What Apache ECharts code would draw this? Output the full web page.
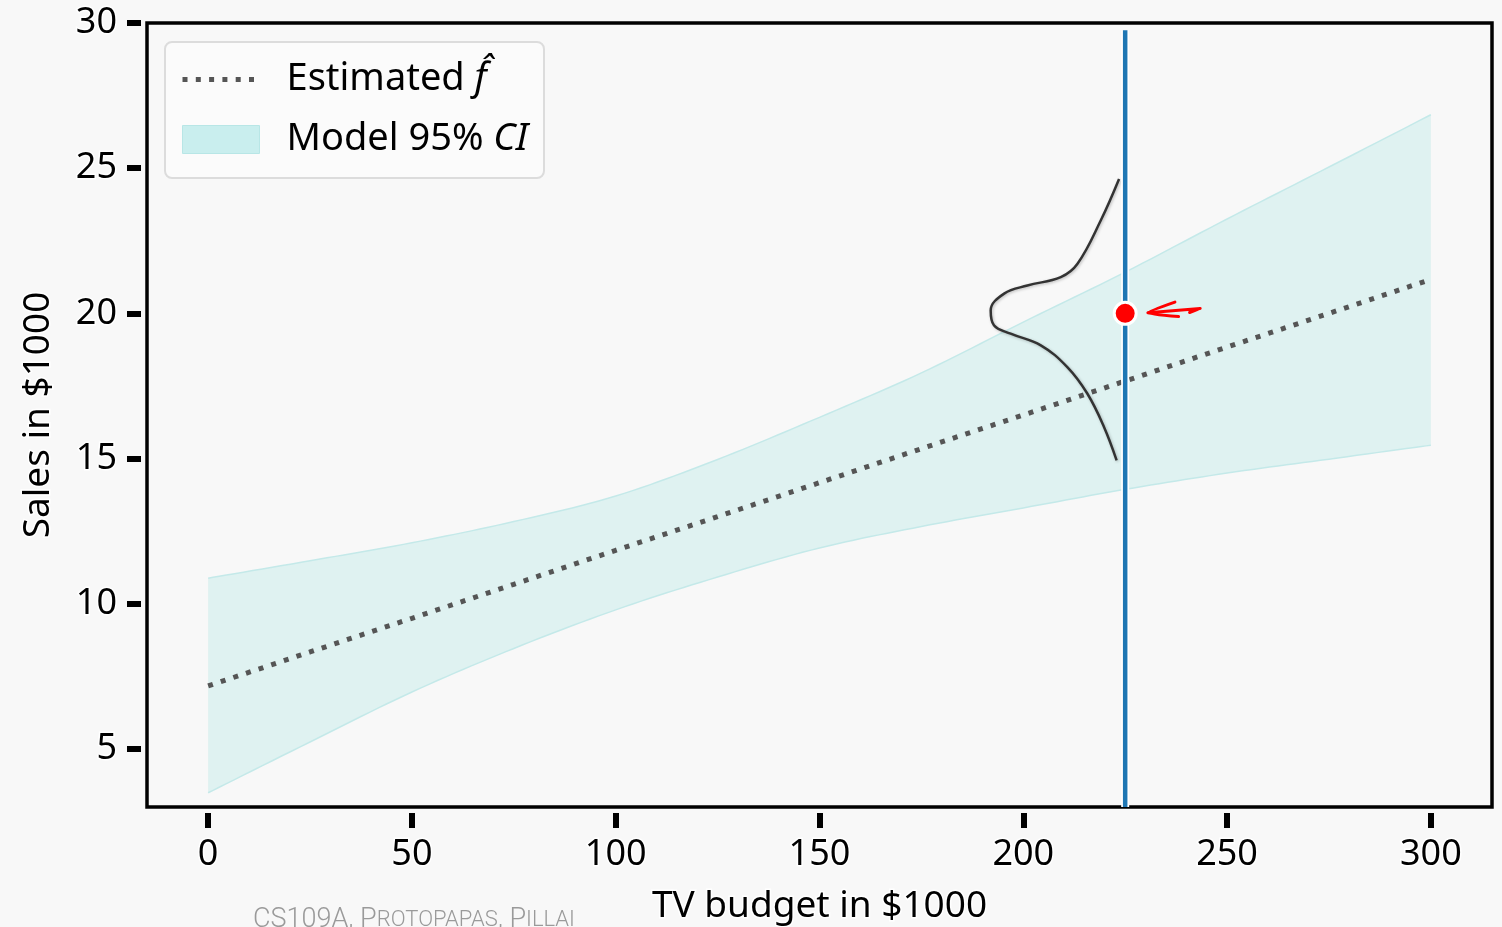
<!DOCTYPE html>
<html>
<head>
<meta charset="utf-8">
<title>TV budget vs Sales</title>
<script src="https://cdn.jsdelivr.net/npm/echarts@6/dist/echarts.min.js"></script>
<style>
  html, body { margin: 0; padding: 0; background: #f8f8f8; }
  #chart { width: 1502px; height: 927px; }
</style>
</head>
<body>
<div id="chart"></div>
<script>
// TV budget grid (in $1000) used for the fitted line and its confidence band
const tvBudget = [0, 25, 50, 75, 100, 125, 150, 175, 200, 225, 250, 275, 300];
// Estimated regression line f-hat (sales in $1000)
const estimatedSales = [7.17, 8.34, 9.50, 10.67, 11.84, 13.00, 14.17, 15.34, 16.50, 17.67, 18.84, 20.00, 21.17];
// 95% confidence band of the model
const ciLower = [3.49, 5.24, 6.96, 8.46, 9.79, 10.92, 11.92, 12.66, 13.30, 13.94, 14.50, 14.98, 15.46];
const ciUpper = [10.88, 11.48, 12.10, 12.83, 13.71, 14.97, 16.42, 17.95, 19.70, 21.42, 23.25, 25.04, 26.84];

// Highlighted budget and the observed sales there
const markedBudget = 225;
const observedSales = 20;

// Sketched sideways bell curve showing the spread of sales around the marked budget
const bellX = [223.5, 219.0, 213.3, 209.2, 201.0, 195.3, 192.0, 192.8, 196.9, 204.3, 210.8, 215.7, 219.8, 222.9];
const bellY = [24.63, 23.20, 21.71, 21.25, 20.96, 20.68, 20.10, 19.59, 19.30, 18.90, 18.15, 17.24, 16.09, 14.94];

// Hand-drawn arrow pointing at the observation
const arrowHeadX = [237.2, 230.6, 238.1];
const arrowHeadY = [20.39, 20.02, 19.89];
const arrowShaftX = [230.6, 243.4, 240.8];
const arrowShaftY = [20.02, 20.17, 20.03];

// Axis ticks and ranges
const xTicks = [0, 50, 100, 150, 200, 250, 300];
const yTicks = [5, 10, 15, 20, 25, 30];
const xRange = [-15, 315];
const yRange = [3, 30];

const FONT = 'Noto Sans';
const pairs = (xs, ys) => xs.map((x, i) => [x, ys[i]]);

const chart = echarts.init(document.getElementById('chart'), null, { renderer: 'canvas' });

const bandEdge = '#c4e9e9';
const bandFill = '#dff2f1';

// Catmull-Rom subdivision of a pixel polyline so the band edges bend smoothly
function smoothPath(pts, steps) {
  const out = [];
  for (let i = 0; i < pts.length - 1; i++) {
    const p0 = pts[Math.max(i - 1, 0)], p1 = pts[i], p2 = pts[i + 1], p3 = pts[Math.min(i + 2, pts.length - 1)];
    for (let s = 0; s < steps; s++) {
      const t = s / steps, t2 = t * t, t3 = t2 * t;
      out.push([0, 1].map(k => 0.5 * ((2 * p1[k]) + (-p0[k] + p2[k]) * t +
        (2 * p0[k] - 5 * p1[k] + 4 * p2[k] - p3[k]) * t2 + (-p0[k] + 3 * p1[k] - 3 * p2[k] + p3[k]) * t3)));
    }
  }
  out.push(pts[pts.length - 1]);
  return out;
}

// Confidence band: filled region between the lower and upper curves, with thin edges
function renderBand(params, api) {
  const upper = smoothPath(tvBudget.map((x, i) => api.coord([x, ciUpper[i]])), 12);
  const lower = smoothPath(tvBudget.map((x, i) => api.coord([x, ciLower[i]])), 12);
  return {
    type: 'group',
    children: [
      {
        type: 'polygon',
        shape: { points: upper.concat(lower.slice().reverse()) },
        style: { fill: bandFill, stroke: null }
      },
      { type: 'polyline', shape: { points: upper }, style: { fill: null, stroke: bandEdge, lineWidth: 1.5 } },
      { type: 'polyline', shape: { points: lower }, style: { fill: null, stroke: bandEdge, lineWidth: 1.5 } }
    ]
  };
}

const option = {
  backgroundColor: '#f8f8f8',
  animation: false,
  textStyle: { fontFamily: FONT },
  grid: {
    left: 147, top: 23, right: 10, bottom: 120,
    containLabel: false, outerBoundsMode: 'none',
    show: true, borderColor: '#000', borderWidth: 3.5, backgroundColor: 'transparent'
  },
  legend: {
    orient: 'vertical',
    left: 165, top: 42,
    padding: [17, 16, 18, 15],
    itemGap: 19,
    itemWidth: 77, itemHeight: 28,
    backgroundColor: '#fbfbfb',
    borderColor: '#dcdcdc', borderWidth: 2, borderRadius: 7,
    textStyle: {
      fontFamily: FONT, fontSize: 38, color: '#000', lineHeight: 41, padding: [0, 0, 0, 22],
      rich: {
        m: { fontFamily: FONT, fontSize: 38, fontStyle: 'italic', color: '#000', lineHeight: 41 }
      }
    },
    formatter: name => name.startsWith('Estimated') ? 'Estimated {m|f\u0302}' : 'Model 95% {m|CI}',
    data: [
      {
        name: 'Estimated f\u0302',
        itemStyle: { color: 'rgba(0,0,0,0)', borderWidth: 0, opacity: 0 },
        lineStyle: { color: '#555', width: 5, type: [5, 8.3], cap: 'butt' }
      },
      { name: 'Model 95% CI', icon: 'rect', itemStyle: { color: '#c9eeee', borderColor: '#b8e6e6', borderWidth: 1 } }
    ]
  },
  xAxis: {
    type: 'value', min: xRange[0], max: xRange[1],
    offset: 6,
    axisLine: { show: false, onZero: false },
    splitLine: { show: false },
    axisTick: { show: true, length: 15, customValues: xTicks, lineStyle: { color: '#000', width: 6 } },
    axisLabel: {
      customValues: xTicks, margin: 24, fontFamily: FONT, fontSize: 36, color: '#000',
      textBorderColor: '#fff', textBorderWidth: 3
    },
    name: 'TV budget in $1000', nameLocation: 'middle', nameGap: 75,
    nameTextStyle: { fontFamily: FONT, fontSize: 37, color: '#000', textBorderColor: '#fff', textBorderWidth: 3 }
  },
  yAxis: {
    type: 'value', min: yRange[0], max: yRange[1],
    offset: 6,
    axisLine: { show: false, onZero: false },
    splitLine: { show: false },
    axisTick: { show: true, length: 14, customValues: yTicks, lineStyle: { color: '#000', width: 6 } },
    axisLabel: {
      customValues: yTicks, margin: 24, fontFamily: FONT, fontSize: 36, color: '#000',
      textBorderColor: '#fff', textBorderWidth: 3
    },
    name: 'Sales in $1000', nameLocation: 'middle', nameGap: 84, nameRotate: 90,
    nameTextStyle: { fontFamily: FONT, fontSize: 37, color: '#000', textBorderColor: '#fff', textBorderWidth: 3 }
  },
  series: [
    {
      name: 'Model 95% CI', type: 'custom',
      renderItem: renderBand,
      data: [0],
      itemStyle: { color: '#c9eeee' },
      silent: true, z: 1
    },
    {
      name: 'Estimated f\u0302', type: 'line', symbol: 'none',
      data: pairs(tvBudget, estimatedSales),
      lineStyle: { color: '#555', width: 5, type: [5, 8.3], cap: 'butt' },
      itemStyle: { color: '#555' },
      z: 3
    },
    {
      name: 'bell', type: 'line', symbol: 'none', smooth: 0.4,
      data: pairs(bellX, bellY),
      lineStyle: { color: '#333', width: 2.5, shadowColor: 'rgba(0,0,0,0.25)', shadowBlur: 3, shadowOffsetX: 1, shadowOffsetY: 1 },
      z: 4
    },
    {
      name: 'marked-halo', type: 'line', symbol: 'none',
      data: [[markedBudget, yRange[0]], [markedBudget, yRange[1] - 0.25]],
      lineStyle: { color: '#fff', width: 8 },
      z: 5
    },
    {
      name: 'marked-budget', type: 'line', symbol: 'none',
      data: [[markedBudget, yRange[0]], [markedBudget, yRange[1] - 0.25]],
      lineStyle: { color: '#1f77b4', width: 4.5 },
      z: 6
    },
    {
      name: 'observation', type: 'scatter',
      data: [[markedBudget, observedSales]],
      symbolSize: 22,
      itemStyle: { color: '#ff0000', borderColor: '#fff', borderWidth: 3, opacity: 1 },
      z: 7
    },
    {
      name: 'arrow-head', type: 'line', symbol: 'none', smooth: 0.2,
      data: pairs(arrowHeadX, arrowHeadY),
      lineStyle: { color: '#ff0000', width: 3, cap: 'round', join: 'round' },
      z: 7
    },
    {
      name: 'arrow-shaft', type: 'line', symbol: 'none', smooth: 0.4,
      data: pairs(arrowShaftX, arrowShaftY),
      lineStyle: { color: '#ff0000', width: 3, cap: 'round', join: 'round' },
      z: 7
    }
  ],
  graphic: [
    {
      type: 'text', left: 253, top: 907, silent: true,
      style: {
        text: '{a|CS109A, P}{b|ROTOPAPAS}{a|, P}{b|ILLAI}',
        rich: {
          a: { fontFamily: 'Roboto', fontWeight: 300, fontSize: 27, fill: '#9a9a9a' },
          b: { fontFamily: 'Roboto', fontWeight: 300, fontSize: 22, fill: '#9a9a9a' }
        }
      }
    }
  ]
};

chart.setOption(option);
</script>
</body>
</html>
